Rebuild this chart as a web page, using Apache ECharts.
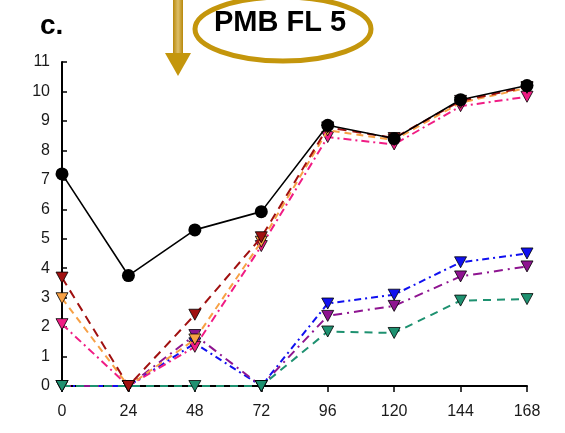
<!DOCTYPE html>
<html>
<head>
<meta charset="utf-8">
<script src="https://cdn.jsdelivr.net/npm/echarts@6/dist/echarts.min.js"></script>
<style>html,body{margin:0;padding:0;background:#fff}#c{width:565px;height:433px}</style>
</head>
<body>
<div id="c"></div>
<script>
const hours = [0, 24, 48, 72, 96, 120, 144, 168];
const yTicks = [0, 1, 2, 3, 4, 5, 6, 7, 8, 9, 10, 11];
const blackSeries  = [7.2, 3.75, 5.3, 5.92, 8.85, 8.4, 9.72, 10.2];
const darkRed      = [3.68, 0, 2.42, 5.05, 8.78, 8.42, 9.68, 10.15];
const orange       = [2.98, 0, 1.58, 4.9, 8.68, 8.35, 9.62, 10.12];
const pink         = [2.1, 0, 1.33, 4.75, 8.45, 8.2, 9.5, 9.82];
const blue         = [0, 0, 1.45, 0, 2.8, 3.1, 4.2, 4.5];
const purple       = [0, 0, 1.73, 0, 2.38, 2.72, 3.72, 4.06];
const green        = [0, 0, 0, 0, 1.85, 1.8, 2.9, 2.95];

const chart = echarts.init(document.getElementById('c'), null, {renderer: 'canvas'});
const pairs = arr => arr.map((v, i) => [hours[i], v]);
const tri = (name, data, color, dash, z) => ({
  name, type: 'line', data: pairs(data), z,
  symbol: 'triangle', symbolSize: [12, 11], symbolRotate: 180,
  itemStyle: {color, borderColor: '#000', borderWidth: 0.8},
  lineStyle: {color, width: 2, type: dash},
  emphasis: {disabled: true}, animation: false
});
const gold = '#C4960C';
chart.setOption({
  animation: false,
  grid: {left: 62, right: 38, top: 62, bottom: 47},
  xAxis: {
    type: 'value', min: 0, max: 168, interval: 24,
    axisLine: {show: true, lineStyle: {color: '#000', width: 2}},
    axisTick: {show: true, inside: false, length: 6, lineStyle: {color: '#000', width: 1.5}},
    axisLabel: {margin: 18, fontFamily: 'Liberation Sans, Arial', fontSize: 16, color: '#1a1a1a',
      formatter: v => hours.includes(v) ? String(v) : ''},
    splitLine: {show: false}
  },
  yAxis: {
    type: 'value', min: 0, max: 11, interval: 1,
    axisLine: {show: true, lineStyle: {color: '#000', width: 2}},
    axisTick: {show: true, inside: true, length: 5, lineStyle: {color: '#000', width: 1.5}},
    axisLabel: {margin: 12, fontFamily: 'Liberation Sans, Arial', fontSize: 16, color: '#1a1a1a',
      formatter: v => yTicks.includes(v) ? String(v) : ''},
    splitLine: {show: false}
  },
  series: [
    tri('blue', blue, '#1010F0', [7, 4, 2, 4], 2),
    tri('purple', purple, '#8E1490', [9, 5, 2, 5], 3),
    tri('green', green, '#1E9170', [8, 6], 4),
    tri('pink', pink, '#F01C84', [8, 4, 2, 4], 5),
    tri('orange', orange, '#F7A045', [7, 5], 6),
    tri('darkred', darkRed, '#A01010', [9, 6], 7),
    {
      name: 'black', type: 'line', data: pairs(blackSeries), z: 8,
      symbol: 'circle', symbolSize: 13,
      itemStyle: {color: '#000'}, lineStyle: {color: '#000', width: 1.6},
      emphasis: {disabled: true}
    }
  ],
  graphic: [
    {type: 'text', left: 40, top: 12, style: {text: 'c.', font: 'bold 28px "Liberation Sans", Arial', fill: '#000'}},
    {type: 'ellipse', shape: {cx: 283, cy: 29, rx: 88, ry: 32}, style: {fill: 'none', stroke: gold, lineWidth: 5}},
    {type: 'text', x: 280, y: 23, style: {text: 'PMB FL 5', font: 'bold 29px "Liberation Sans", Arial', fill: '#000', textAlign: 'center', textVerticalAlign: 'middle'}},
    {type: 'rect', shape: {x: 173, y: 0, width: 10, height: 55},
      style: {fill: new echarts.graphic.LinearGradient(0, 0, 1, 0, [
        {offset: 0, color: '#B8880A'}, {offset: 0.5, color: '#DDBF6A'}, {offset: 1, color: '#B8880A'}])}},
    {type: 'polygon', shape: {points: [[165, 53], [191, 53], [178, 76]]}, style: {fill: gold}}
  ]
});
</script>
</body>
</html>
